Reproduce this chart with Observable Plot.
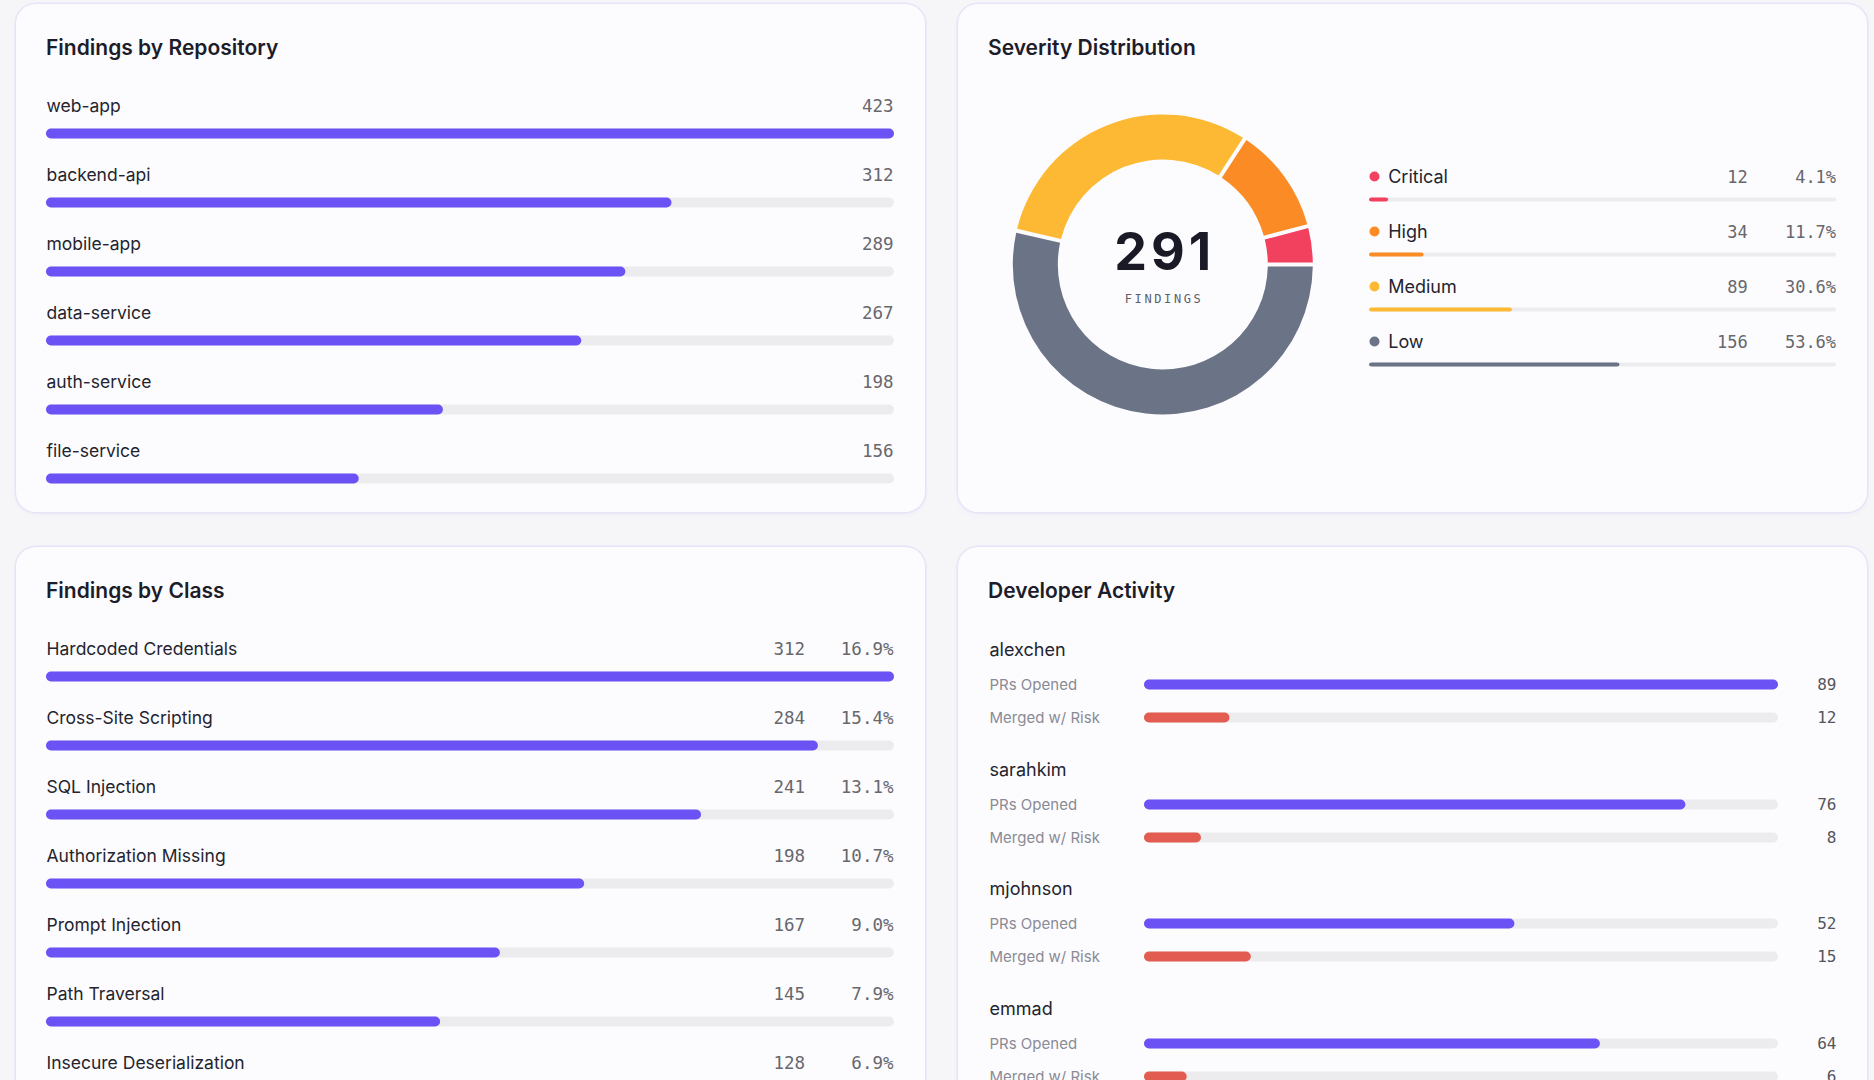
<!DOCTYPE html>
<html>
<head>
<meta charset="utf-8">
<script src="https://cdn.jsdelivr.net/npm/d3@7"></script>
<script src="https://cdn.jsdelivr.net/npm/@observablehq/plot@0.6"></script>
<style>
  html, body { margin: 0; padding: 0; width: 1874px; height: 1080px; overflow: hidden; background: #f6f6f9; font-family: Inter, "Noto Sans", sans-serif; }
  .card { position: absolute; width: 909px; background: #fcfcff; border-radius: 20px;
          box-shadow: 0 0 0 1.5px #e7e4f7, 0 2px 5px rgba(96, 84, 190, 0.07); }
  .title { position: absolute; left: 30px; top: 33px; font-size: 21px; line-height: 21px; font-weight: 600; color: #1d1d2a; }
  .slot { position: absolute; left: 0; top: 0; }
  .slot svg { display: block; }
</style>
</head>
<body>
<div class="card" id="repo-card" style="left:16px;top:4px;height:508px"><div class="title">Findings by Repository</div></div>
<div class="card" id="sev-card" style="left:958px;top:4px;height:508px"><div class="title">Severity Distribution</div></div>
<div class="card" id="class-card" style="left:16px;top:547px;height:620px"><div class="title">Findings by Class</div></div>
<div class="card" id="dev-card" style="left:958px;top:547px;height:620px"><div class="title">Developer Activity</div></div>
<script>
// ---- data ----
const repos = ["web-app", "backend-api", "mobile-app", "data-service", "auth-service", "file-service"];
const repoFindings = [423, 312, 289, 267, 198, 156];

const classes = ["Hardcoded Credentials", "Cross-Site Scripting", "SQL Injection", "Authorization Missing",
                 "Prompt Injection", "Path Traversal", "Insecure Deserialization"];
const classFindings = [312, 284, 241, 198, 167, 145, 128];
const classShare = [16.9, 15.4, 13.1, 10.7, 9.0, 7.9, 6.9];

const severities = ["Critical", "High", "Medium", "Low"];
const severityCounts = [12, 34, 89, 156];
const severityShare = [4.1, 11.7, 30.6, 53.6];
const severityColors = ["#f2405f", "#fb8b24", "#fdb933", "#6b7386"];

const developers = ["alexchen", "sarahkim", "mjohnson", "emmad"];
const metrics = ["PRs Opened", "Merged w/ Risk"];
const prsOpened = [89, 76, 52, 64];
const mergedWithRisk = [12, 8, 15, 6];

// ---- styling ----
const FONT = "Inter, 'Noto Sans', sans-serif";
const MONO = "'DejaVu Sans Mono', 'Liberation Mono', monospace";
const PURPLE = "#6a52f5";
const RED = "#e35c51";
const TRACK = "#ececef";
const INK = "#24242e";
const GREY = "#67676c";
const baseStyle = {background: "transparent", fontFamily: FONT, overflow: "visible"};

function mount(cardId, node, top = 0) {
  const slot = document.createElement("div");
  slot.className = "slot";
  slot.style.top = top + "px";
  slot.appendChild(node);
  document.getElementById(cardId).appendChild(slot);
}

// Ranked list of labelled progress bars (repository and class cards)
function rankedList(rows, height, valueMarks) {
  const max = d3.max(rows, d => d.value);
  const step = 69, first = 129.5, thick = 10;
  const inset = (step - thick) / 2;
  return Plot.plot({
    width: 909, height, margin: 0, style: baseStyle,
    x: {domain: [0, max], range: [30, 878], axis: null},
    y: {type: "band", domain: rows.map(d => d.name), range: [first - step / 2, first + step * (rows.length - 0.5)], padding: 0, axis: null},
    marks: [
      Plot.barX(rows, {y: "name", x1: 0, x2: max, fill: TRACK, rx: thick / 2, insetTop: inset, insetBottom: inset}),
      Plot.barX(rows, {y: "name", x1: 0, x2: "value", fill: PURPLE, rx: thick / 2, insetTop: inset, insetBottom: inset}),
      Plot.text(rows, {x: 0, y: "name", text: "name", textAnchor: "start", lineAnchor: "bottom", dy: -22, fontSize: 17.5, fill: INK}),
      ...valueMarks(max)
    ]
  });
}

// Repository card
const repoRows = repos.map((name, i) => ({name, value: repoFindings[i]}));
mount("repo-card", rankedList(repoRows, 508, max => [
  Plot.text(repoRows, {x: max, y: "name", text: d => String(d.value), textAnchor: "end", lineAnchor: "bottom", dy: -22, dx: -1,
                       fontFamily: MONO, fontSize: 17.5, fill: GREY})
]));

// Class card
const classRows = classes.map((name, i) => ({name, value: classFindings[i], share: classShare[i]}));
mount("class-card", rankedList(classRows, 620, max => [
  Plot.text(classRows, {x: max, y: "name", text: d => String(d.value), textAnchor: "end", lineAnchor: "bottom", dy: -22, dx: -89.5,
                        fontFamily: MONO, fontSize: 17.5, fill: GREY}),
  Plot.text(classRows, {x: max, y: "name", text: d => d.share.toFixed(1) + "%", textAnchor: "end", lineAnchor: "bottom", dy: -22, dx: -1,
                        fontFamily: MONO, fontSize: 17.5, fill: GREY})
]));

// Severity card: donut + legend bars
const sevRows = severities.map((name, i) => ({name, count: severityCounts[i], share: severityShare[i]}));
const totalFindings = d3.sum(severityCounts);
const sevStep = 55.77, sevFirst = 194.5, sevThick = 5;
const sevInset = (sevStep - sevThick) / 2;
const fallbackColor = d3.scaleOrdinal(severities, severityColors);

function donut(index, scales) {
  const color = scales && typeof scales.color === "function" ? scales.color : fallbackColor;
  const g = d3.create("svg:g").attr("transform", "translate(204.8,260.5)");
  const pie = d3.pie().sort(null).value(d => d.count).startAngle(Math.PI / 2).endAngle(Math.PI / 2 - 2 * Math.PI);
  const arc = d3.arc().innerRadius(105).outerRadius(150).padRadius(150).padAngle(4 / 150);
  g.selectAll("path").data(pie(sevRows)).join("path")
    .attr("d", arc)
    .attr("fill", d => color(d.data.name));
  g.append("text")
    .attr("text-anchor", "middle").attr("x", 2).attr("y", 5.5)
    .attr("font-family", FONT).attr("font-size", 52).attr("font-weight", 700).attr("letter-spacing", "4px").attr("fill", "#1a1a26")
    .text(totalFindings);
  g.append("text")
    .attr("text-anchor", "middle").attr("x", 1.3).attr("y", 38.8)
    .attr("font-family", MONO).attr("font-size", 12).attr("letter-spacing", "2.6px").attr("fill", "#5f5f66")
    .text("FINDINGS");
  return g.node();
}

mount("sev-card", Plot.plot({
  width: 909, height: 508, margin: 0, style: baseStyle,
  x: {domain: [0, 100], range: [411, 878.2], axis: null},
  y: {type: "band", domain: severities, range: [sevFirst - sevStep / 2, sevFirst + sevStep * 3.5], padding: 0, axis: null},
  color: {domain: severities, range: severityColors},
  marks: [
    donut,
    Plot.barX(sevRows, {y: "name", x1: 0, x2: 100, fill: TRACK, rx: sevThick / 2, insetTop: sevInset, insetBottom: sevInset}),
    Plot.barX(sevRows, {y: "name", x1: 0, x2: "share", fill: "name", rx: sevThick / 2, insetTop: sevInset, insetBottom: sevInset}),
    Plot.dot(sevRows, {x: 0, y: "name", dx: 5, dy: -23.5, r: 5, fill: "name"}),
    Plot.text(sevRows, {x: 0, y: "name", text: "name", dx: 18.7, dy: -17.5, textAnchor: "start", lineAnchor: "bottom", fontSize: 18, fill: INK}),
    Plot.text(sevRows, {x: 100, y: "name", text: d => String(d.count), dx: -89, dy: -17.5, textAnchor: "end", lineAnchor: "bottom",
                        fontFamily: MONO, fontSize: 17, fill: GREY}),
    Plot.text(sevRows, {x: 100, y: "name", text: d => d.share.toFixed(1) + "%", dx: -0.6, dy: -17.5, textAnchor: "end", lineAnchor: "bottom",
                        fontFamily: MONO, fontSize: 17, fill: GREY})
  ]
}));

// Developer card: one small block per developer
const prMax = d3.max(prsOpened);
developers.forEach((dev, i) => {
  const rows = [
    {metric: metrics[0], value: prsOpened[i]},
    {metric: metrics[1], value: mergedWithRisk[i]}
  ];
  const plot = Plot.plot({
    width: 909, height: 112, marginTop: 0, marginBottom: 0, marginLeft: 31, marginRight: 31, style: baseStyle,
    x: {domain: [0, prMax], range: [186, 820], axis: null},
    y: {type: "band", domain: metrics, range: [40.5, 106.5], padding: 0, axis: null},
    color: {domain: metrics, range: [PURPLE, RED]},
    marks: [
      Plot.text([dev], {frameAnchor: "top-left", text: d => d, dy: 28, textAnchor: "start", lineAnchor: "bottom", fontSize: 18, fill: INK}),
      Plot.text(rows, {frameAnchor: "left", y: "metric", text: "metric", textAnchor: "start", lineAnchor: "middle", fontSize: 15, fill: "#8a8a94"}),
      Plot.barX(rows, {y: "metric", x1: 0, x2: prMax, fill: TRACK, rx: 5, insetTop: 11.5, insetBottom: 11.5}),
      Plot.barX(rows, {y: "metric", x1: 0, x2: "value", fill: "metric", rx: 5, insetTop: 11.5, insetBottom: 11.5}),
      Plot.text(rows, {frameAnchor: "right", y: "metric", text: d => String(d.value), textAnchor: "end", lineAnchor: "middle",
                       fontFamily: MONO, fontSize: 16, fill: "#55555c"})
    ]
  });
  mount("dev-card", plot, 80 + 119.5 * i);
});
</script>
</body>
</html>
